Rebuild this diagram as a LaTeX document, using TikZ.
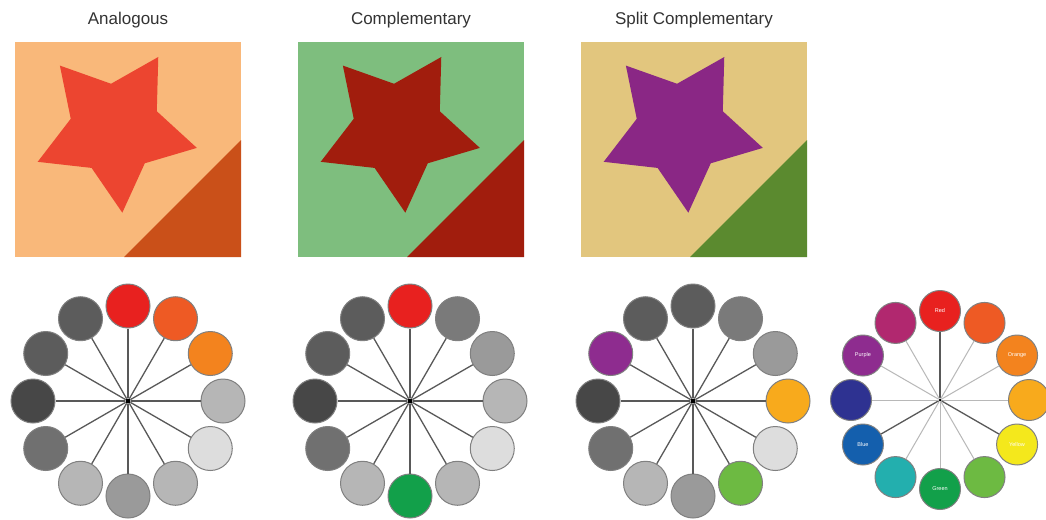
\documentclass[tikz,border=0pt]{standalone}
\usepackage{fontspec}
\setmainfont{Liberation Sans}
\usetikzlibrary{shapes.geometric}

% panels
\definecolor{anaBg}{HTML}{F9B87A}
\definecolor{anaStar}{HTML}{EC4530}
\definecolor{anaTri}{HTML}{CA5019}
\definecolor{comBg}{HTML}{7EBE7E}
\definecolor{comStar}{HTML}{A11D0D}
\definecolor{splBg}{HTML}{E2C67E}
\definecolor{splStar}{HTML}{8A2785}
\definecolor{splTri}{HTML}{5B8A2F}
% hues
\definecolor{hRed}{HTML}{E8211F}
\definecolor{hRedOr}{HTML}{EE5A24}
\definecolor{hOr}{HTML}{F3831E}
\definecolor{hYelOr}{HTML}{F8AA1C}
\definecolor{hYel}{HTML}{F4E81C}
\definecolor{hYelGr}{HTML}{6DBA42}
\definecolor{hGr}{HTML}{12A04A}
\definecolor{hTeal}{HTML}{23AFAE}
\definecolor{hBlue}{HTML}{145FAD}
\definecolor{hIndigo}{HTML}{2E3291}
\definecolor{hPurple}{HTML}{8E2C8F}
\definecolor{hMagenta}{HTML}{B1286F}
% greys
\definecolor{gA}{HTML}{474747}
\definecolor{gB}{HTML}{5C5C5C}
\definecolor{gC}{HTML}{707070}
\definecolor{gD}{HTML}{7A7A7A}
\definecolor{gE}{HTML}{9A9A9A}
\definecolor{gF}{HTML}{B6B6B6}
\definecolor{gG}{HTML}{DDDDDD}

\begin{document}
\begin{tikzpicture}[
        x=1pt, y=-1pt,
        title/.style={font=\fontsize{17}{19}\selectfont, text=black!80},
        bigstar/.style={star, star points=5, star point ratio=1.85, minimum size=168pt, inner sep=0pt, outer sep=0pt, rotate=-31},
        hue/.style={circle, draw=black!50, line width=1pt, minimum size=44pt, inner sep=0pt},
        smallhue/.style={hue, minimum size=41pt, text=white, font=\fontsize{5.5}{6}\selectfont},
        hub/.style={circle, fill=black, inner sep=0pt, minimum size=5pt},
        spoke/.style={draw=black!65, line width=1.3pt},
        lightspoke/.style={draw=black!28, line width=1pt},
    ]
    \useasboundingbox (0,0) rectangle (1046,519);
    \fill[white] (0,0) rectangle (1046,519);

    % the three swatches
    \foreach \x/\name/\bg/\st/\tri in {15/Analogous/anaBg/anaStar/anaTri,
            298/Complementary/comBg/comStar/comStar,
            581/Split Complementary/splBg/splStar/splTri}{
        \fill[\bg] (\x,42) rectangle ++(226,215);
        \fill[\tri] (\x+226,140) -- (\x+226,257) -- (\x+109,257) -- cycle;
        \node[bigstar, fill=\st] (star\x) at (\x+100,129) {};
        \node[title] (title\x) at (\x+113,20) {\name};
    }

    % analogous wheel
    \node[hub] (c1) at (128,401) {};
    \foreach \c [count=\k from 0] in {hRed,hRedOr,hOr,gF,gG,gF,gE,gF,gC,gA,gB,gB}{
        \node[hue, fill=\c] (w1-\k) at ({128+95*cos(30*\k-90)},{401+95*sin(30*\k-90)}) {};
        \draw[spoke] (c1) -- (w1-\k);
    }
    % complementary wheel
    \node[hub] (c2) at (410,401) {};
    \foreach \c [count=\k from 0] in {hRed,gD,gE,gF,gG,gF,hGr,gF,gC,gA,gB,gB}{
        \node[hue, fill=\c] (w2-\k) at ({410+95*cos(30*\k-90)},{401+95*sin(30*\k-90)}) {};
        \draw[spoke] (c2) -- (w2-\k);
    }
    % split complementary wheel
    \node[hub] (c3) at (693,401) {};
    \foreach \c [count=\k from 0] in {gB,gD,gE,hYelOr,gG,hYelGr,gE,gF,gC,gA,hPurple,gB}{
        \node[hue, fill=\c] (w3-\k) at ({693+95*cos(30*\k-90)},{401+95*sin(30*\k-90)}) {};
        \draw[spoke] (c3) -- (w3-\k);
    }
    % full colour wheel
    \node[hub, minimum size=3pt] (c4) at (940,400) {};
    \foreach \c/\t/\s [count=\k from 0] in {hRed/Red/spoke, hRedOr//lightspoke,
            hOr/Orange/lightspoke, hYelOr//lightspoke, hYel/Yellow/spoke,
            hYelGr//lightspoke, hGr/Green/lightspoke, hTeal//lightspoke,
            hBlue/Blue/spoke, hIndigo//lightspoke, hPurple/Purple/lightspoke,
            hMagenta//lightspoke}{
        \node[smallhue, fill=\c] (w4-\k) at ({940+89*cos(30*\k-90)},{400+89*sin(30*\k-90)}) {\t};
        \draw[\s] (c4) -- (w4-\k);
    }
\end{tikzpicture}
\end{document}
